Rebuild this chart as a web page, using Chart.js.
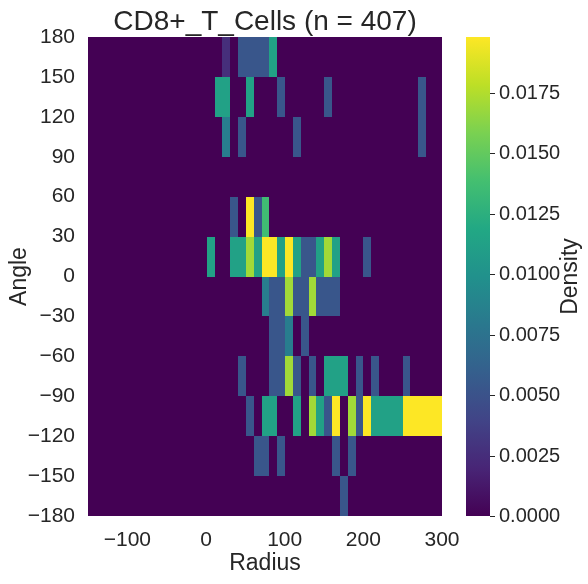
<!DOCTYPE html>
<html>
<head>
<meta charset="utf-8">
<script src="https://cdn.jsdelivr.net/npm/chart.js@4.4.1/dist/chart.umd.min.js"></script>
<style>
html, body { margin: 0; padding: 0; background: #fff; }
</style>
</head>
<body>
<canvas id="heat" width="588" height="584"></canvas>
<script>
const titleText = "CD8+_T_Cells (n = 407)";
const radiusTicks = [-100, 0, 100, 200, 300];
const angleTicks = [-180, -150, -120, -90, -60, -30, 0, 30, 60, 90, 120, 150, 180];
const densityTicks = [0, 0.0025, 0.005, 0.0075, 0.01, 0.0125, 0.015, 0.0175];
const densityMax = 0.0198;

// bin edges
const radiusEdges = [1.0, 10.9, 20.9, 30.9, 40.8, 50.8, 60.7, 70.7, 80.6, 90.6,
  100.5, 110.5, 120.4, 130.4, 140.3, 150.3, 160.2, 170.2, 180.1, 190.1,
  200.0, 210.0, 219.9, 229.9, 239.8, 249.8, 259.7, 269.7, 279.6, 289.6, 299.5];
const angleEdges = [-180, -150, -120, -90, -60, -30, 0, 30, 60, 90, 120, 150, 180];

// density per radius bin, one array per angle bin
const rowM180 = [0, 0, 0, 0, 0, 0, 0, 0, 0, 0, 0, 0, 0, 0, 0, 0, 0, .0053, 0, 0, 0, 0, 0, 0, 0, 0, 0, 0, 0, 0];
const rowM150 = [0, 0, 0, 0, 0, 0, .0053, .0053, 0, .0053, 0, 0, 0, 0, 0, 0, .0053, 0, .0053, 0, 0, 0, 0, 0, 0, 0, 0, 0, 0, 0];
const rowM120 = [0, 0, 0, 0, 0, .0053, 0, .0113, .0113, 0, 0, .0113, 0, .0170, .0113, .0053, .0198, 0, .0170, .0053, .0198, .0113, .0113, .0113, .0113, .0198, .0198, .0198, .0198, .0198];
const rowM90 = [0, 0, 0, 0, .0053, 0, 0, 0, .0053, .0053, .0170, .0053, 0, .0053, 0, .0113, .0113, .0113, 0, .0053, 0, .0053, 0, 0, 0, .0053, 0, 0, 0, 0];
const rowM60 = [0, 0, 0, 0, 0, 0, 0, 0, .0053, .0053, .0083, 0, .0053, 0, 0, 0, 0, 0, 0, 0, 0, 0, 0, 0, 0, 0, 0, 0, 0, 0];
const rowM30 = [0, 0, 0, 0, 0, 0, 0, .0083, .0053, .0053, .0170, .0053, .0053, .0170, .0053, .0053, .0053, 0, 0, 0, 0, 0, 0, 0, 0, 0, 0, 0, 0, 0];
const rowP0 = [.0113, 0, 0, .0113, .0113, .0170, .0113, .0198, .0198, .0113, .0198, .0113, .0053, .0053, .0113, .0170, .0113, 0, 0, 0, .0053, 0, 0, 0, 0, 0, 0, 0, 0, 0];
const rowP30 = [0, 0, 0, .0053, 0, .0198, .0053, .0136, 0, 0, 0, 0, 0, 0, 0, 0, 0, 0, 0, 0, 0, 0, 0, 0, 0, 0, 0, 0, 0, 0];
const rowP60 = [0, 0, 0, 0, 0, 0, 0, 0, 0, 0, 0, 0, 0, 0, 0, 0, 0, 0, 0, 0, 0, 0, 0, 0, 0, 0, 0, 0, 0, 0];
const rowP90 = [0, 0, .0083, 0, .0053, 0, 0, 0, 0, 0, 0, .0053, 0, 0, 0, 0, 0, 0, 0, 0, 0, 0, 0, 0, 0, 0, 0, .0053, 0, 0];
const rowP120 = [0, .0113, .0113, 0, 0, .0113, 0, 0, 0, .0053, 0, 0, 0, 0, 0, .0053, 0, 0, 0, 0, 0, 0, 0, 0, 0, 0, 0, .0053, 0, 0];
const rowP150 = [0, 0, .0026, 0, .0053, .0053, .0053, .0053, .0113, 0, 0, 0, 0, 0, 0, 0, 0, 0, 0, 0, 0, 0, 0, 0, 0, 0, 0, 0, 0, 0];
const densityRows = [rowM180, rowM150, rowM120, rowM90, rowM60, rowM30, rowP0, rowP30, rowP60, rowP90, rowP120, rowP150];

// viridis colormap stops
const viridis = ['#440154', '#482576', '#414487', '#355f8d', '#2a788e', '#21918c',
  '#22a884', '#44bf70', '#7ad151', '#bddf26', '#fde725'];

const textColor = '#262626';
const fontFamily = "'Liberation Sans', Arial, sans-serif";

function hexToRgb(h) {
    return [parseInt(h.slice(1, 3), 16), parseInt(h.slice(3, 5), 16), parseInt(h.slice(5, 7), 16)];
}
function colorFor(v) {
    let t = Math.max(0, Math.min(1, v / densityMax)) * (viridis.length - 1);
    const i = Math.min(Math.floor(t), viridis.length - 2);
    const f = t - i;
    const a = hexToRgb(viridis[i]), b = hexToRgb(viridis[i + 1]);
    const c = a.map((x, j) => Math.round(x + (b[j] - x) * f));
    return 'rgb(' + c.join(',') + ')';
}
function minusSign(v) {
    return String(v).replace('-', '\u2212');
}

// draws the histogram cells through the chart scales
const heatPlugin = {
    id: 'heat',
    beforeDatasetsDraw(chart) {
        const ctx = chart.ctx;
        const area = chart.chartArea;
        const xs = chart.scales.x, ys = chart.scales.y;
        ctx.save();
        ctx.fillStyle = viridis[0];
        ctx.fillRect(area.left, area.top, area.right - area.left, area.bottom - area.top);
        densityRows.forEach((row, r) => {
            const yTop = Math.round(ys.getPixelForValue(angleEdges[r + 1]));
            const yBot = Math.round(ys.getPixelForValue(angleEdges[r]));
            row.forEach((v, k) => {
                if (!v) return;
                const x0 = Math.round(xs.getPixelForValue(radiusEdges[k]));
                const x1 = Math.round(xs.getPixelForValue(radiusEdges[k + 1]));
                ctx.fillStyle = colorFor(v);
                ctx.fillRect(x0, yTop, x1 - x0, yBot - yTop);
            });
        });
        ctx.restore();
    },
    afterDraw(chart) {
        const ctx = chart.ctx;
        const area = chart.chartArea;
        ctx.save();
        // title, centred over the plot
        ctx.fillStyle = textColor;
        ctx.font = '28px ' + fontFamily;
        ctx.textAlign = 'center';
        ctx.textBaseline = 'middle';
        ctx.fillText(titleText, (area.left + area.right) / 2, 22);

        // colour bar
        const left = area.right + 24, width = 24;
        const top = area.top, bottom = area.bottom;
        const grad = ctx.createLinearGradient(0, bottom, 0, top);
        viridis.forEach((c, i) => grad.addColorStop(i / (viridis.length - 1), c));
        ctx.fillStyle = grad;
        ctx.fillRect(left, top, width, bottom - top);
        ctx.strokeStyle = textColor;
        ctx.fillStyle = textColor;
        ctx.lineWidth = 1;
        ctx.font = '20px ' + fontFamily;
        ctx.textAlign = 'left';
        densityTicks.forEach(t => {
            const y = Math.round(bottom - (t / densityMax) * (bottom - top)) + 0.5;
            ctx.beginPath();
            ctx.moveTo(left + width, y);
            ctx.lineTo(left + width + 5, y);
            ctx.stroke();
            ctx.fillText(t.toFixed(4), left + width + 9, y);
        });
        ctx.translate(571, (top + bottom) / 2);
        ctx.rotate(-Math.PI / 2);
        ctx.textAlign = 'center';
        ctx.font = '23px ' + fontFamily;
        ctx.fillText('Density', 0, 0);
        ctx.restore();
    }
};

const chart = new Chart(document.getElementById('heat').getContext('2d'), {
    type: 'scatter',
    data: { datasets: [{ data: [], pointRadius: 0 }] },
    options: {
        responsive: false,
        animation: false,
        layout: { padding: { left: 2, right: 146, bottom: 3, top: 37 } },
        plugins: {
            legend: { display: false },
            tooltip: { enabled: false },
            title: { display: false }
        },
        scales: {
            x: {
                type: 'linear',
                min: -150, max: 300,
                grid: { display: false },
                border: { display: false },
                afterBuildTicks: (s) => { s.ticks = radiusTicks.map(v => ({ value: v })); },
                afterFit: (s) => { s.height = 65; },
                ticks: { color: textColor, font: { family: fontFamily, size: 21 }, padding: 4, maxRotation: 0,
                    callback: (v) => minusSign(v) },
                title: { display: true, text: 'Radius', color: textColor, font: { family: fontFamily, size: 23 } }
            },
            y: {
                type: 'linear',
                min: -180, max: 180,
                grid: { display: false },
                border: { display: false },
                afterBuildTicks: (s) => { s.ticks = angleTicks.map(v => ({ value: v })); },
                afterFit: (s) => { s.width = 86; },
                ticks: { color: textColor, font: { family: fontFamily, size: 21 }, padding: 5,
                    callback: (v) => minusSign(v) },
                title: { display: true, text: 'Angle', color: textColor, font: { family: fontFamily, size: 23 } }
            }
        }
    },
    plugins: [heatPlugin]
});
</script>
</body>
</html>
